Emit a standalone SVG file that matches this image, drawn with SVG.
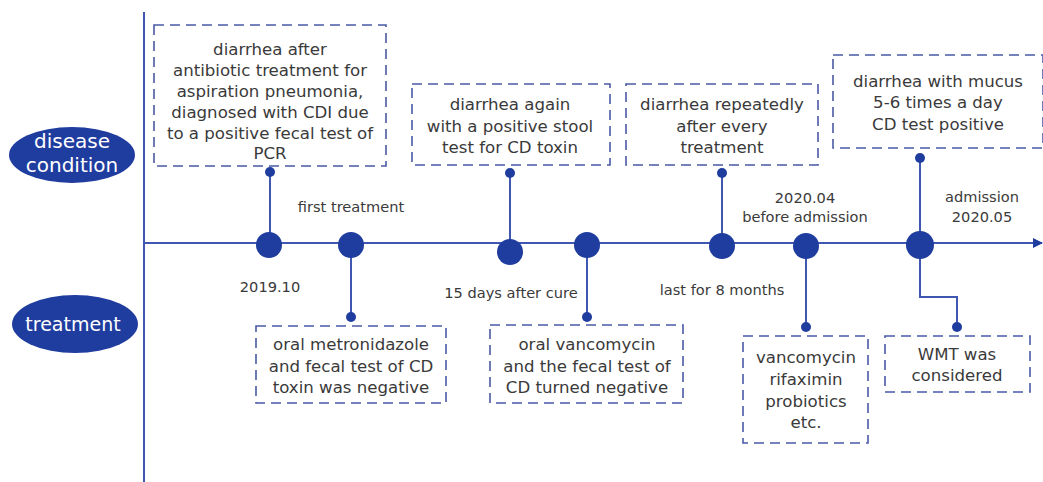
<svg xmlns="http://www.w3.org/2000/svg" width="1043" height="482" viewBox="0 0 1043 482">
<defs>
<style>
.box{fill:none;stroke:#4a5aa6;stroke-width:1.6;stroke-dasharray:10 6}
.t{font-family:"DejaVu Sans","Liberation Sans",sans-serif;font-size:16.6px;fill:#3a3a3a;text-anchor:middle}
.lbl{font-family:"DejaVu Sans","Liberation Sans",sans-serif;font-size:14.6px;fill:#3a3a3a;text-anchor:middle}
.cat{font-family:"DejaVu Sans","Liberation Sans",sans-serif;font-size:20px;fill:#ffffff;text-anchor:middle}
.ln{stroke:#4057b2;stroke-width:2;fill:none}
.node{fill:#1f3c9f}
.dot{fill:#1f3c9f}
.ell{fill:#1f3c9f}
</style>
<marker id="arr" viewBox="0 0 10 10" refX="9" refY="5" markerWidth="10" markerHeight="10" markerUnits="userSpaceOnUse" orient="auto">
<path d="M0,0 L10,5 L0,10 z" fill="#1f3c9f"/>
</marker>
</defs>
<rect width="1043" height="482" fill="#ffffff"/>

<g id="axes">
<line class="ln" x1="144" y1="12" x2="144" y2="482"/>
<line class="ln" x1="144" y1="243" x2="1042" y2="243" marker-end="url(#arr)"/>
</g>

<g id="cat-disease">
<ellipse class="ell" cx="72" cy="155" rx="63" ry="28"/>
<text class="cat" x="72" y="148">disease</text>
<text class="cat" x="72" y="172">condition</text>
</g>
<g id="cat-treatment">
<ellipse class="ell" cx="75" cy="324" rx="63" ry="29"/>
<text class="cat" x="73" y="331" style="font-size:19px">treatment</text>
</g>

<g id="connectors">
<line class="ln" x1="270" y1="172" x2="270" y2="245"/>
<line class="ln" x1="351" y1="245" x2="351" y2="317"/>
<line class="ln" x1="510" y1="173" x2="510" y2="252"/>
<line class="ln" x1="587" y1="245" x2="587" y2="317"/>
<line class="ln" x1="722" y1="173" x2="722" y2="245"/>
<line class="ln" x1="806" y1="245" x2="806" y2="327"/>
<line class="ln" x1="920" y1="158" x2="920" y2="245"/>
<polyline class="ln" points="920,245 920,297 957,297 957,327"/>
</g>

<g id="box1">
<rect class="box" x="154" y="25" width="232" height="141"/>
<text class="t" x="270" y="55">diarrhea after</text>
<text class="t" x="270" y="76">antibiotic treatment for</text>
<text class="t" x="270" y="97">aspiration pneumonia,</text>
<text class="t" x="270" y="118">diagnosed with CDI due</text>
<text class="t" x="270" y="139">to a positive fecal test of</text>
<text class="t" x="270" y="159">PCR</text>
<circle class="dot" cx="270" cy="172" r="5"/>
</g>

<g id="box2">
<rect class="box" x="256" y="326" width="190" height="77"/>
<text class="t" x="351" y="350">oral metronidazole</text>
<text class="t" x="351" y="372">and fecal test of CD</text>
<text class="t" x="351" y="393">toxin was negative</text>
<circle class="dot" cx="351" cy="317" r="5"/>
</g>

<g id="box3">
<rect class="box" x="412" y="84" width="198" height="81"/>
<text class="t" x="510" y="110">diarrhea again</text>
<text class="t" x="510" y="132">with a positive stool</text>
<text class="t" x="510" y="153">test for CD toxin</text>
<circle class="dot" cx="510" cy="173" r="5"/>
</g>

<g id="box4">
<rect class="box" x="490" y="325" width="193" height="78"/>
<text class="t" x="587" y="350">oral vancomycin</text>
<text class="t" x="587" y="372">and the fecal test of</text>
<text class="t" x="587" y="393">CD turned negative</text>
<circle class="dot" cx="587" cy="317" r="5"/>
</g>

<g id="box5">
<rect class="box" x="626" y="84" width="192" height="81"/>
<text class="t" x="722" y="110">diarrhea repeatedly</text>
<text class="t" x="722" y="132">after every</text>
<text class="t" x="722" y="153">treatment</text>
<circle class="dot" cx="722" cy="173" r="5"/>
</g>

<g id="box6">
<rect class="box" x="743" y="336" width="125" height="107"/>
<text class="t" x="806" y="363">vancomycin</text>
<text class="t" x="806" y="385">rifaximin</text>
<text class="t" x="806" y="407">probiotics</text>
<text class="t" x="806" y="428">etc.</text>
<circle class="dot" cx="806" cy="327" r="5"/>
</g>

<g id="box7">
<rect class="box" x="833" y="55" width="210" height="93"/>
<text class="t" x="938" y="87">diarrhea with mucus</text>
<text class="t" x="938" y="108">5-6 times a day</text>
<text class="t" x="938" y="130">CD test positive</text>
<circle class="dot" cx="920" cy="158" r="5"/>
</g>

<g id="box8">
<rect class="box" x="885" y="336" width="145" height="56"/>
<text class="t" x="957" y="360">WMT was</text>
<text class="t" x="957" y="381">considered</text>
<circle class="dot" cx="957" cy="327" r="5"/>
</g>

<g id="nodes">
<circle class="node" cx="269" cy="245" r="13"/>
<circle class="node" cx="351" cy="245" r="13"/>
<circle class="node" cx="510" cy="252" r="13"/>
<circle class="node" cx="587" cy="245" r="13"/>
<circle class="node" cx="722" cy="246" r="13"/>
<circle class="node" cx="806" cy="246" r="13"/>
<circle class="node" cx="920" cy="245" r="14"/>
</g>

<g id="labels">
<text class="lbl" x="351" y="212">first treatment</text>
<text class="lbl" x="270" y="292">2019.10</text>
<text class="lbl" x="511" y="298">15 days after cure</text>
<text class="lbl" x="722" y="295">last for 8 months</text>
<text class="lbl" x="805" y="203">2020.04</text>
<text class="lbl" x="805" y="222">before admission</text>
<text class="lbl" x="982" y="202">admission</text>
<text class="lbl" x="982" y="222">2020.05</text>
</g>
</svg>
